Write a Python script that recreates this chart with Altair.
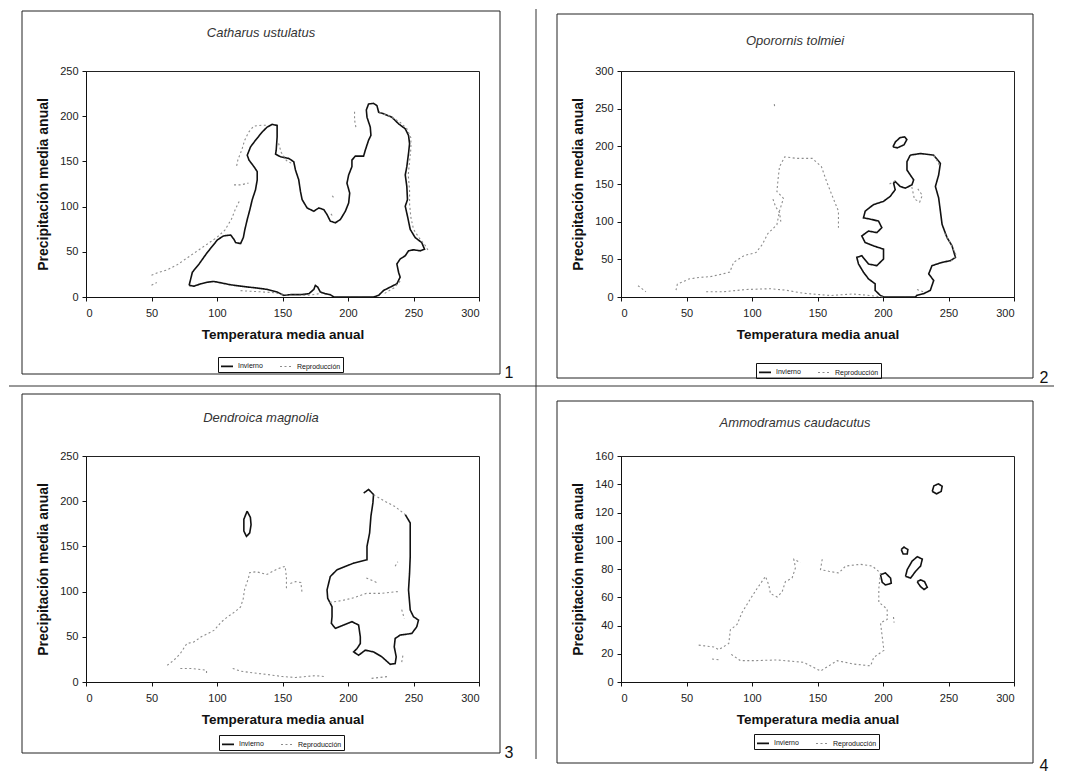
import altair as alt
import pandas as pd

SERIES = ["Invierno", "Reproducción"]
X_TICKS = [0, 50, 100, 150, 200, 250, 300]
X_TITLE = "Temperatura media anual"
Y_TITLE = "Precipitación media anual"

# ---------------- Panel 1: Catharus ustulatus ----------------
P1_TITLE = "Catharus ustulatus"
P1_YTICKS = [0, 50, 100, 150, 200, 250]
P1_INV = [
    [(78.7, 12.8), (81.2, 27.4), (86.3, 36.5), (92.6, 49.3), (100.3, 63.1), (104.8, 67.5),
     (110.4, 68.6), (112.9, 63.9), (114.2, 60.2), (118.0, 59.1), (120.1, 65.7), (121.3, 74.8),
     (123.1, 85.8), (125.1, 96.7), (126.9, 107.7), (129.4, 118.6), (130.7, 129.6), (130.7, 138.7),
     (128.2, 144.2), (124.4, 151.5), (123.1, 156.9), (125.6, 166.1), (129.4, 173.4), (134.5, 182.5),
     (138.3, 188.0), (142.1, 190.9), (145.9, 189.8), (145.9, 177.0), (145.2, 162.4), (144.7, 158.0),
     (148.5, 155.1), (154.8, 153.3), (158.6, 149.6), (159.9, 140.5), (162.4, 129.6), (163.7, 116.8),
     (165.0, 107.7), (168.8, 98.5), (173.9, 94.9), (177.7, 98.5), (181.5, 96.7), (184.0, 91.2),
     (186.5, 83.9), (190.4, 82.1), (194.2, 85.8), (198.0, 94.9), (200.5, 104.0), (201.3, 115.0),
     (199.2, 125.9), (200.5, 135.0), (203.0, 144.2), (203.0, 151.5), (205.6, 155.8), (211.9, 155.8),
     (213.2, 162.4), (215.7, 173.4), (217.5, 178.8), (217.0, 188.0), (214.5, 198.9), (214.0, 206.9),
     (215.7, 213.5), (219.5, 214.2), (222.1, 211.7), (223.4, 204.4), (227.2, 202.6), (233.5, 198.9),
     (238.6, 191.6), (243.7, 186.1), (246.2, 178.8), (247.0, 169.7), (246.2, 158.8), (244.9, 144.2),
     (243.7, 135.0), (244.9, 122.3), (245.4, 107.7), (243.7, 100.4), (245.4, 89.4), (247.5, 74.8),
     (251.3, 65.7), (256.3, 60.2), (258.4, 52.9), (255.1, 51.1), (250.0, 52.2), (246.2, 51.1),
     (243.7, 45.6), (239.8, 42.0), (237.3, 36.5), (238.6, 27.4), (239.8, 21.9), (237.3, 14.6),
     (232.2, 10.9), (227.2, 7.3), (223.4, 1.8), (219.5, 0.0), (189.1, 0.0), (186.5, 2.6),
     (182.7, 3.6), (178.9, 5.5), (176.9, 10.9), (175.1, 12.8), (173.9, 8.4), (170.1, 3.6),
     (163.7, 2.6), (156.1, 2.6), (151.0, 1.8), (145.9, 5.5), (138.3, 8.4), (130.7, 9.9),
     (124.4, 10.9), (118.0, 12.0), (110.4, 13.5), (102.8, 15.7), (97.7, 17.2), (92.6, 16.4),
     (87.6, 14.6), (82.5, 12.0), (78.7, 12.8)],
]
P1_REP = [
    [(50, 24), (55, 27), (62, 30), (70, 36), (78, 44), (86, 52), (94, 60), (100, 66), (106, 74),
     (111, 86), (114, 97), (117, 106)],
    [(113, 124), (118, 124), (124, 126)],
    [(115, 145), (116, 152), (119, 163), (121, 173), (124, 182), (128, 189), (134, 190), (139, 190)],
    [(147, 170), (149, 160), (153, 151), (158, 147)],
    [(205, 205), (205, 196), (206, 188)],
    [(224, 204), (232, 200), (240, 193), (245, 186), (248, 176), (248, 164), (247, 150), (246, 135),
     (247, 118), (247, 103), (248, 88), (250, 75), (254, 66), (259, 57), (261, 52)],
    [(188, 112), (190, 108)],
    [(187, 92), (189, 88)],
    [(118, 7), (130, 6), (142, 5), (155, 2), (170, 2), (180, 4)],
    [(228, 4), (235, 10), (240, 18)],
    [(50, 13), (54, 16)],
]

# ---------------- Panel 2: Oporornis tolmiei ----------------
P2_TITLE = "Oporornis tolmiei"
P2_YTICKS = [0, 50, 100, 150, 200, 250, 300]
P2_INV = [
    [(220.8, 188.3), (228.5, 190.5), (238.7, 188.3), (243.8, 177.4), (242.5, 162.1), (240.0, 146.7),
     (242.5, 131.4), (243.8, 113.9), (245.1, 96.4), (248.9, 78.8), (252.7, 67.9), (255.3, 52.6),
     (251.5, 48.2), (245.1, 46.0), (237.4, 41.6), (234.9, 30.7), (238.7, 21.9), (236.1, 8.8),
     (231.0, 4.4), (225.9, 2.2), (224.7, 0.0), (200.4, 0.0), (197.9, 2.2), (194.0, 8.8),
     (194.0, 17.5), (188.9, 24.1), (185.1, 32.9), (181.3, 43.8), (180.0, 52.6), (183.8, 54.8),
     (188.9, 43.8), (195.3, 41.6), (200.4, 50.4), (200.4, 63.5), (192.7, 67.9), (186.4, 72.3),
     (183.8, 81.0), (188.9, 87.6), (195.3, 85.4), (199.1, 92.0), (196.6, 100.7), (191.5, 102.9),
     (185.1, 105.1), (186.4, 113.9), (192.7, 122.6), (200.4, 127.0), (205.5, 133.6), (209.3, 142.4),
     (208.1, 151.1), (209.3, 153.3), (213.2, 146.7), (217.0, 144.5), (222.1, 148.9), (223.4, 155.5),
     (220.8, 162.1), (218.3, 168.6), (218.3, 179.6), (220.8, 188.3)],
    [(207.6, 199.3), (209.5, 206.0), (213.0, 211.5), (216.5, 212.5), (218.2, 209.0), (216.0, 202.0),
     (211.0, 198.0), (207.6, 199.3)],
]
P2_REP = [
    [(13, 15), (19, 7)],
    [(42, 9), (43, 17), (52, 24), (60, 26), (68, 27), (76, 30), (83, 33), (86, 46), (94, 55),
     (103, 59), (108, 70), (112, 84), (119, 96), (121, 114), (124, 131), (119, 140), (120, 158),
     (121, 173), (125, 186), (134, 184), (146, 184), (153, 173), (157, 153), (162, 131), (166, 114),
     (166, 92)],
    [(65, 7), (78, 7), (96, 10), (114, 11), (126, 9), (139, 5), (160, 2), (177, 4), (190, 2), (200, 0)],
    [(117, 256), (117.5, 251)],
    [(116, 130), (118, 120), (121, 112), (122, 100)],
    [(205, 150), (210, 155)],
    [(222, 146), (224, 130), (228, 126), (230, 135), (226, 145)],
    [(239, 188), (243, 175)],
    [(247, 85), (252, 70), (256, 55), (252, 48)],
    [(226, 10), (232, 6)],
]

# ---------------- Panel 3: Dendroica magnolia ----------------
P3_TITLE = "Dendroica magnolia"
P3_YTICKS = [0, 50, 100, 150, 200, 250]
P3_INV = [
    [(212.0, 209.0), (215.7, 213.0), (219.5, 207.4), (219.0, 198.1), (217.5, 183.3), (216.5, 164.8),
     (214.5, 150.0), (214.5, 135.2), (204.3, 131.5), (191.6, 124.1), (186.5, 116.7), (184.0, 101.9),
     (184.5, 92.6), (187.8, 83.3), (187.8, 72.2), (187.3, 64.8), (190.4, 59.3), (196.7, 63.0),
     (203.0, 66.7), (208.1, 63.0), (209.4, 50.0), (209.4, 42.6), (206.9, 37.0), (204.3, 33.3),
     (208.1, 29.6), (213.2, 35.2), (219.5, 33.3), (225.9, 27.8), (232.2, 19.6), (236.0, 20.4),
     (236.8, 27.8), (235.3, 38.9), (236.0, 48.1), (239.8, 51.9), (248.7, 53.7), (252.5, 61.1),
     (253.8, 68.5), (250.0, 72.2), (247.5, 79.6), (246.2, 101.9), (247.0, 120.4), (247.5, 138.9),
     (247.5, 175.9), (243.7, 185.2)],
    [(123, 189), (125.5, 182), (126, 174), (125, 165), (122.5, 161), (120.5, 167), (120.5, 180),
     (123, 189)],
]
P3_REP = [
    [(62, 18.5), (67, 24), (72, 31.5), (77, 42.6), (82, 44), (88, 50), (95, 55), (98, 57.4),
     (103, 66), (108, 72), (114, 78), (118, 83), (120, 92), (121, 102), (124, 115), (125, 121),
     (130, 122), (138, 119), (146, 125), (152, 128), (153, 116), (153, 102)],
    [(156, 109), (160, 111), (164, 110), (165, 98)],
    [(72, 15), (80, 15), (92, 13), (92, 8)],
    [(112, 15), (118, 12), (128, 10), (140, 8), (150, 6), (160, 5), (175, 7), (182, 6)],
    [(218, 4), (230, 6)],
    [(186, 88), (195, 90), (203, 92.6), (214, 98), (225, 98), (238, 100)],
    [(214, 115), (222, 110)],
    [(236, 128), (238, 133)],
    [(241, 80), (243, 70)],
    [(241, 22), (242, 30)],
    [(219.5, 207), (228, 200), (236, 194), (243.7, 185.2)],
]

# ---------------- Panel 4: Ammodramus caudacutus ----------------
P4_TITLE = "Ammodramus caudacutus"
P4_YTICKS = [0, 20, 40, 60, 80, 100, 120, 140, 160]
P4_INV = [
    [(237.6, 134.9), (238.8, 138.8), (242.2, 140.3), (245.2, 138.6), (244.4, 134.9), (240.9, 133.2),
     (237.6, 134.9)],
    [(213.9, 93.8), (216.0, 95.5), (219.0, 93.8), (218.5, 90.6), (215.4, 90.6), (213.9, 93.8)],
    [(217.2, 74.8), (218.5, 79.6), (222.3, 85.7), (226.2, 88.7), (230.0, 87.0), (228.7, 82.1),
     (224.9, 78.4), (221.1, 73.6), (217.2, 74.8)],
    [(198.1, 76.0), (201.9, 77.2), (205.8, 73.5), (206.3, 69.9), (201.9, 68.7), (199.4, 70.6),
     (198.1, 76.0)],
    [(226.1, 71.1), (228.7, 72.3), (231.7, 71.1), (233.8, 67.0), (231.3, 65.5), (228.7, 67.5),
     (227.4, 69.2), (226.1, 71.1)],
]
P4_REP = [
    [(59.3, 26.1), (70.8, 24.8), (74.6, 22.9), (82.3, 27.3), (83.5, 37.0), (88.6, 40.7), (92.4, 49.2),
     (98.8, 58.9), (103.9, 66.2), (110.3, 74.8), (112.8, 68.7), (114.1, 62.6), (119.2, 60.2),
     (123.0, 63.8), (125.5, 71.1), (130.6, 73.6), (133.2, 80.9), (131.9, 86.9), (137.0, 84.5)],
    [(153.6, 86.9), (152.3, 79.6), (158.6, 78.4), (166.3, 77.2), (171.4, 82.1), (182.8, 83.3),
     (191.8, 82.1), (198.1, 77.2), (196.8, 66.2), (196.8, 56.5), (203.2, 51.6), (203.2, 44.3),
     (198.1, 41.9), (199.4, 32.1), (200.7, 22.4), (193.0, 17.5), (190.5, 11.4), (177.7, 12.7),
     (165.0, 15.1), (152.3, 7.8), (139.5, 13.9), (119.2, 15.6), (101.4, 15.1), (91.2, 15.1),
     (83.5, 20.0)],
    [(69.5, 16.3), (75.9, 15.6)],
    [(208, 46), (208.5, 42)],
]

W, H = 393, 226
FONT = "Liberation Sans"
DUMMY = pd.DataFrame({"k": [0]})


def frame(inv, rep):
    rows = []
    for serie, segs in ((SERIES[0], inv), (SERIES[1], rep)):
        for s, seg in enumerate(segs):
            for k, (x, y) in enumerate(seg):
                rows.append({"x": x, "y": y, "serie": serie, "seg": f"{serie}-{s}", "ord": k})
    return pd.DataFrame(rows)


def panel(inv, rep, title, yticks, num, title_y, box, num_y, leg_xy, extras=()):
    df = frame(inv, rep)
    leg = alt.Legend(
        orient="none", legendX=leg_xy[0], legendY=leg_xy[1], direction="horizontal",
        title=None, strokeColor="#111111", padding=2, labelFont=FONT, labelFontSize=7,
        labelColor="#111111", symbolType="stroke", symbolSize=144, symbolStrokeWidth=1.2,
        columnPadding=14, labelOffset=4,
    )
    lines = alt.Chart(df).mark_line().encode(
        x=alt.X("x:Q", scale=alt.Scale(domain=[0, 300], nice=False, zero=False),
                axis=alt.Axis(values=X_TICKS, title=X_TITLE, labelPadding=6, titlePadding=9,
                              titleFontSize=13.5)),
        y=alt.Y("y:Q", scale=alt.Scale(domain=[0, yticks[-1]], nice=False),
                axis=alt.Axis(values=yticks, title=Y_TITLE, labelPadding=4, titlePadding=9,
                              titleFontSize=14)),
        color=alt.Color("serie:N", scale=alt.Scale(domain=SERIES, range=["#111111", "#8c8c8c"]),
                        legend=leg),
        strokeDash=alt.StrokeDash("serie:N", scale=alt.Scale(domain=SERIES, range=[[1, 0], [2, 2.5]]),
                                  legend=leg),
        strokeWidth=alt.StrokeWidth("serie:N", scale=alt.Scale(domain=SERIES, range=[1.6, 1.1]),
                                    legend=None),
        detail="seg:N",
        order="ord:Q",
    )
    border = alt.Chart(DUMMY).mark_rect(fillOpacity=0, stroke="#222222", strokeWidth=1).encode(
        x=alt.value(box[0]), x2=alt.value(box[1]), y=alt.value(box[2]), y2=alt.value(box[3]))
    ttl = alt.Chart(DUMMY).mark_text(
        text=title, font=FONT, fontStyle="italic", fontSize=13, color="#333333",
        align="center", baseline="middle").encode(
            x=alt.value((box[0] + box[1]) / 2), y=alt.value(title_y))
    number = alt.Chart(DUMMY).mark_text(
        text=str(num), font=FONT, fontSize=16, color="#111111",
        align="center", baseline="middle").encode(x=alt.value(423), y=alt.value(num_y))
    return alt.layer(border, lines, ttl, number, *extras).properties(width=W, height=H)


divider_v = alt.Chart(DUMMY).mark_rule(color="#333333", strokeWidth=1).encode(
    x=alt.value(450), y=alt.value(-62), y2=alt.value(688))
divider_h = alt.Chart(DUMMY).mark_rule(color="#333333", strokeWidth=1).encode(
    y=alt.value(315), x=alt.value(-77), x2=alt.value(968))

p1 = panel(P1_INV, P1_REP, P1_TITLE, P1_YTICKS, 1, -38, (-64, 414, -60, 303), 302, (132, 286),
           extras=(divider_v, divider_h))
p2 = panel(P2_INV, P2_REP, P2_TITLE, P2_YTICKS, 2, -30, (-64, 412, -57, 307), 307, (135, 292))
p3 = panel(P3_INV, P3_REP, P3_TITLE, P3_YTICKS, 3, -38, (-64, 414, -62, 297), 297, (133, 279))
p4 = panel(P4_INV, P4_REP, P4_TITLE, P4_YTICKS, 4, -33, (-64, 412, -55, 307), 310, (133, 278))

chart = alt.concat(
    p1, p2, p3, p4, columns=2, spacing={"row": 159, "column": 142}, bounds="flush"
).resolve_scale(
    color="independent", strokeDash="independent", strokeWidth="independent"
).resolve_legend(
    color="independent", strokeDash="independent"
).properties(
    padding=0, autosize=alt.AutoSizeParams(type="pad"), background="white"
).configure_view(
    stroke="#222222", strokeWidth=1
).configure_axis(
    grid=False, domainColor="#111111", tickColor="#111111", tickSize=4,
    labelFont=FONT, labelFontSize=11, labelColor="#222222",
    titleFont=FONT, titleFontSize=13, titleFontWeight="bold", titleColor="#111111",
)

chart.save("out.html", embed_options={"renderer": "svg", "actions": False})
